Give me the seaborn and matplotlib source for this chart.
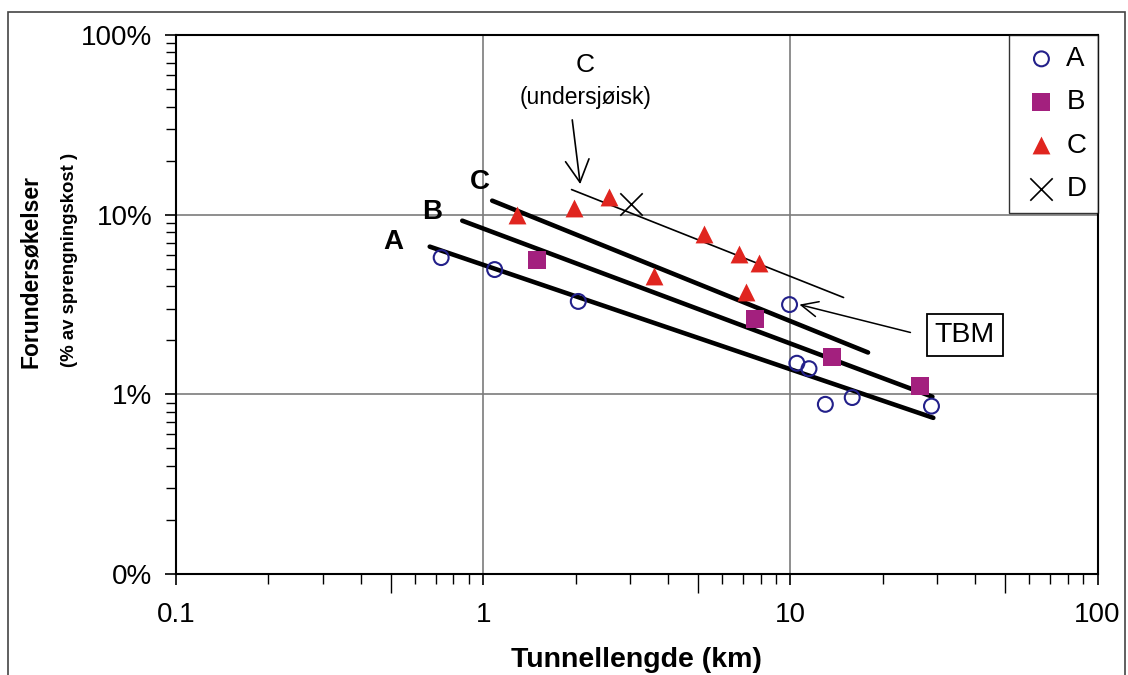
import numpy as np
import pandas as pd
import matplotlib
matplotlib.use("Agg")
import matplotlib.pyplot as plt
from matplotlib.patches import Rectangle
from matplotlib.ticker import LogLocator, FuncFormatter, NullFormatter
import seaborn as sns

# --- data (tunnel length in km, pre-investigation cost in % of blasting cost) ---
a_len = [0.73, 1.09, 2.04, 9.94, 10.5, 11.5, 13.0, 15.9, 28.8]
a_pct = [5.77, 4.95, 3.29, 3.16, 1.49, 1.39, 0.88, 0.96, 0.86]

b_len = [1.50, 7.69, 13.7, 26.5]
b_pct = [5.62, 2.64, 1.61, 1.11]

c_len = [1.29, 1.98, 2.57, 3.60, 5.25, 6.82, 7.93, 7.19]
c_pct = [10.0, 10.9, 12.6, 4.58, 7.84, 6.07, 5.41, 3.73]

d_len = [3.03]
d_pct = [11.4]

# trend lines (start, end)
trend_a_len = [0.67, 29.2]
trend_a_pct = [6.64, 0.74]
trend_b_len = [0.855, 29.0]
trend_b_pct = [9.26, 0.97]
trend_c_len = [1.07, 17.9]
trend_c_pct = [11.97, 1.71]
trend_csub_len = [1.94, 14.9]
trend_csub_pct = [13.8, 3.46]

y_tick_vals = [0.1, 1, 10, 100]
y_tick_labels = ["0%", "1%", "10%", "100%"]
x_tick_vals = [0.1, 1, 10, 100]
x_tick_labels = ["0.1", "1", "10", "100"]

col_a = "#23208a"
col_b = "#a3207e"
col_c = "#e0251f"

# --- style ---
sns.set_style("white")
plt.rcParams["font.family"] = ["Liberation Sans", "DejaVu Sans"]
plt.rcParams["text.color"] = "black"
plt.rcParams["axes.labelcolor"] = "black"
plt.rcParams["xtick.color"] = "black"
plt.rcParams["ytick.color"] = "black"

fig = plt.figure(figsize=(11.28, 6.75), dpi=100)
ax = fig.add_axes([0.156, 0.1496, 0.817, 0.7985])
ax.set_xscale("log")
ax.set_yscale("log")
ax.set_xlim(0.1, 100)
ax.set_ylim(0.1, 100)
ax.set_axisbelow(True)
ax.grid(True, which="major", color="#7c7c7c", lw=1.2)

# trend lines
for lx, ly, lw in [(trend_a_len, trend_a_pct, 3.3), (trend_b_len, trend_b_pct, 3.3),
                   (trend_c_len, trend_c_pct, 3.3), (trend_csub_len, trend_csub_pct, 1.2)]:
    sns.lineplot(x=lx, y=ly, color="black", lw=lw, ax=ax, legend=False)

# points
n_before = len(ax.collections)
sns.scatterplot(x=a_len, y=a_pct, marker="o", s=115, color=col_a, ax=ax, label="A", zorder=4)
a_coll = ax.collections[n_before]
a_coll.set_facecolor("none")
a_coll.set_edgecolor(col_a)
a_coll.set_linewidth(1.5)
sns.scatterplot(x=b_len, y=b_pct, marker="s", s=150, color=col_b, linewidth=0, ax=ax, label="B", zorder=4)
sns.scatterplot(x=c_len, y=c_pct, marker="^", s=165, color=col_c, linewidth=0, ax=ax, label="C", zorder=4)
sns.scatterplot(x=d_len, y=d_pct, marker="x", s=260, color="black", linewidth=1.2, ax=ax, label="D", zorder=4)

# ticks
ax.set_xticks(x_tick_vals)
ax.set_xticklabels(x_tick_labels)
ax.set_yticks(y_tick_vals)
ax.yaxis.set_major_formatter(FuncFormatter(lambda v, p: dict(zip(y_tick_vals, y_tick_labels)).get(round(v, 3), "")))
ax.xaxis.set_minor_locator(LogLocator(base=10, subs=np.arange(2, 10)))
ax.yaxis.set_minor_locator(LogLocator(base=10, subs=np.arange(2, 10)))
ax.xaxis.set_minor_formatter(NullFormatter())
ax.yaxis.set_minor_formatter(NullFormatter())
ax.tick_params(axis="both", which="major", direction="out", length=8, width=1.2,
               labelsize=20, color="black", labelcolor="black", left=True, bottom=True)
ax.tick_params(axis="x", which="major", pad=12)
ax.tick_params(axis="y", which="major", pad=9)
ax.tick_params(axis="both", which="minor", direction="out", length=7, width=1.0,
               color="black", left=True, bottom=True)
fig.canvas.draw()
for t, loc in zip(ax.xaxis.get_minor_ticks(), ax.xaxis.get_minorticklocs()):
    mant = loc / 10 ** np.floor(np.log10(loc) + 1e-9)
    if abs(mant - 5) < 1e-6:
        t.tick1line.set_markersize(14)

for sp in ax.spines.values():
    sp.set_color("black")
    sp.set_linewidth(1.5)

# axis labels
ax.set_xlabel("Tunnellengde (km)", fontsize=20.5, fontweight="bold", labelpad=14)
fig.text(31 / 1128, 1 - 272 / 675, "Forundersøkelser", rotation=90, fontsize=16.5,
         fontweight="bold", ha="center", va="center")
fig.text(70 / 1128, 1 - 260 / 675, "(% av sprengningskost )", rotation=90, fontsize=13.4,
         fontweight="bold", ha="center", va="center")

# line labels
ax.text(0.509, 7.08, "A", fontsize=20, fontweight="bold", ha="center", va="center")
ax.text(0.682, 10.4, "B", fontsize=20, fontweight="bold", ha="center", va="center")
ax.text(0.978, 15.3, "C", fontsize=20, fontweight="bold", ha="center", va="center")

# C (undersjøisk) annotation
ax.text(2.15, 68.0, "C", fontsize=19, ha="center", va="center")
ax.text(2.15, 45.0, "(undersjøisk)", fontsize=16.5, ha="center", va="center")
ax.annotate("", xy=(2.07, 14.8), xytext=(1.95, 33.7),
            arrowprops=dict(arrowstyle="->,head_length=1.6,head_width=0.85", color="black", lw=1.2,
                            shrinkA=0, shrinkB=0))

# TBM annotation
ax.annotate("", xy=(10.7, 3.16), xytext=(24.6, 2.21),
            arrowprops=dict(arrowstyle="->,head_length=1.2,head_width=0.55", color="black", lw=1.1,
                            shrinkA=0, shrinkB=0))
ax.text(37.0, 2.14, "TBM", fontsize=20.5, ha="center", va="center",
        bbox=dict(boxstyle="square,pad=0.27", fc="white", ec="black", lw=1.3))

# legend
leg = ax.legend(loc="upper right", borderaxespad=0, fontsize=20, frameon=True, fancybox=False,
                edgecolor="black", labelspacing=0.62, handletextpad=0.15, handlelength=1.5,
                borderpad=0.4)
leg.get_frame().set_linewidth(1.0)

# outer frame
fig.add_artist(Rectangle((0.007, -0.01), 0.99, 0.992, transform=fig.transFigure,
                         fill=False, ec="#444444", lw=1.2))

fig.savefig("out.png", dpi=100)
